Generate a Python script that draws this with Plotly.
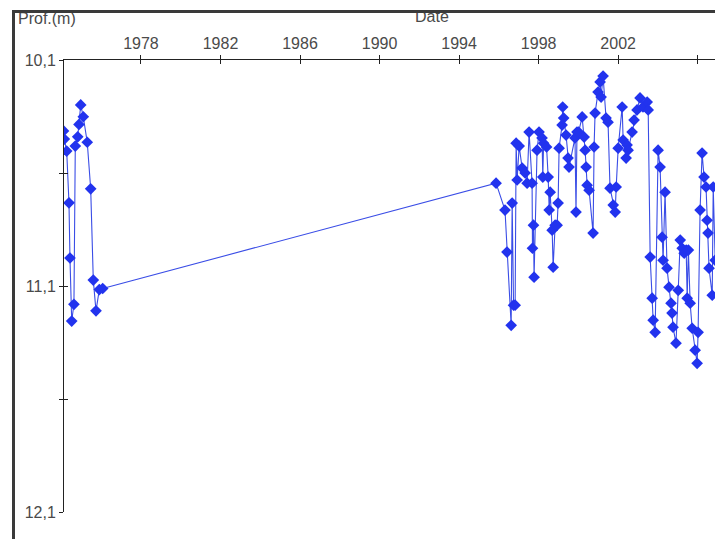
import pandas as pd
import plotly.graph_objects as go

# Decimal-year dates and depths (m)
years = [
    1974.105, 1974.145, 1974.266, 1974.38, 1974.43, 1974.517, 1974.63, 1974.698,
    1974.82, 1974.885, 1974.97, 1975.10, 1975.30, 1975.473, 1975.604, 1975.74,
    1975.906, 1976.077,
    1995.86, 1996.31, 1996.41, 1996.62, 1996.67, 1996.74, 1996.82, 1996.87,
    1996.92, 1997.02, 1997.17, 1997.32, 1997.42, 1997.52, 1997.67, 1997.69,
    1997.74, 1997.77, 1997.92, 1998.02, 1998.17, 1998.21, 1998.25, 1998.40,
    1998.48, 1998.53, 1998.58, 1998.68, 1998.73, 1998.83, 1998.93, 1998.98,
    1999.03, 1999.18, 1999.21, 1999.26, 1999.38, 1999.48, 1999.53, 1999.83,
    1999.88, 1999.93, 2000.01, 2000.19, 2000.29, 2000.34, 2000.39, 2000.44,
    2000.54, 2000.74, 2000.79, 2000.84, 2000.99, 2001.09, 2001.14, 2001.24,
    2001.39, 2001.49, 2001.59, 2001.75, 2001.85, 2001.90, 2002.00, 2002.20,
    2002.25, 2002.40, 2002.45, 2002.50, 2002.70, 2002.80, 2002.95, 2003.10,
    2003.25, 2003.46, 2003.51, 2003.61, 2003.71, 2003.76, 2003.86, 2004.01,
    2004.11, 2004.21, 2004.26, 2004.36, 2004.46, 2004.56, 2004.66, 2004.71,
    2004.76, 2004.91, 2005.02, 2005.12, 2005.22, 2005.32, 2005.42, 2005.47,
    2005.53, 2005.62, 2005.72, 2005.87, 2005.97, 2006.02, 2006.12, 2006.22,
    2006.32, 2006.42, 2006.47, 2006.52, 2006.57, 2006.73, 2006.78, 2006.88,
]
depths = [
    10.414, 10.450, 10.503, 10.732, 10.976, 11.255, 11.181, 10.481,
    10.440, 10.385, 10.299, 10.351, 10.464, 10.670, 11.074, 11.210,
    11.116, 11.111,
    10.645, 10.764, 10.950, 11.274, 10.733, 11.185, 11.185, 10.468,
    10.631, 10.481, 10.578, 10.600, 10.645, 10.419, 10.645, 10.933,
    10.831, 11.061, 10.499, 10.419, 10.445, 10.618, 10.468, 10.485,
    10.618, 10.764, 10.685, 10.853, 11.017, 10.831, 10.831, 10.733,
    10.490, 10.388, 10.308, 10.357, 10.432, 10.534, 10.574, 10.445,
    10.773, 10.419, 10.419, 10.352, 10.441, 10.499, 10.574, 10.654,
    10.676, 10.866, 10.485, 10.335, 10.242, 10.197, 10.264, 10.171,
    10.357, 10.375, 10.667, 10.742, 10.773, 10.662, 10.490, 10.308,
    10.454, 10.534, 10.476, 10.499, 10.419, 10.366, 10.321, 10.268,
    10.308, 10.286, 10.321, 10.972, 11.154, 11.251, 11.305, 10.499,
    10.574, 10.884, 10.986, 10.685, 11.021, 11.105, 11.176, 11.220,
    11.282, 11.353, 11.119, 10.897, 10.933, 10.955, 10.941, 11.154,
    10.941, 11.176, 11.287, 11.384, 11.442, 11.305, 10.764, 10.512,
    10.618, 10.662, 10.809, 10.866, 11.021, 11.141, 10.662, 10.986,
]

y_tickvals = [10.1, 10.6, 11.1, 11.6, 12.1]
y_ticktext = ["10,1", "", "11,1", "", "12,1"]


def dec_to_date(y):
    yr = int(y)
    return pd.Timestamp(yr, 1, 1) + pd.Timedelta(days=(y - yr) * 365.25)


dates = [dec_to_date(v) for v in years]

FONT = "Liberation Sans, Arial, sans-serif"
TXT = "#4a4a4a"
BLUE = "#2233ee"

fig = go.Figure()
fig.add_trace(go.Scatter(
    x=dates, y=depths, mode="lines+markers",
    line=dict(color="#3a4de6", width=1.1),
    marker=dict(symbol="diamond", size=9, color=BLUE),
    showlegend=False, hoverinfo="x+y",
))
# invisible trace for overlay tick axes
fig.add_trace(go.Scatter(x=[dates[0]], y=[depths[0]], xaxis="x2", yaxis="y2",
                         mode="markers", marker=dict(opacity=0), showlegend=False,
                         hoverinfo="skip"))

x_range = [dec_to_date(1974.13), dec_to_date(2006.87)]

fig.update_layout(
    width=715, height=539,
    margin=dict(l=64, r=0, t=60, b=27),
    paper_bgcolor="white", plot_bgcolor="white",
    font=dict(family=FONT, size=16, color=TXT),
    xaxis=dict(
        type="date", side="top", range=x_range,
        tick0="1978-01-01", dtick="M48", tickformat="%Y",
        showgrid=False, zeroline=False,
        showline=True, linecolor="#222222", linewidth=1,
        ticks="outside", ticklen=4, tickcolor="#222222",
        tickfont=dict(family=FONT, size=16, color=TXT),
    ),
    xaxis2=dict(
        type="date", side="top", overlaying="x", range=x_range,
        tick0="1978-01-01", dtick="M48",
        showgrid=False, zeroline=False, showline=False,
        ticks="inside", ticklen=4, tickcolor="#222222",
        showticklabels=False,
    ),
    yaxis=dict(
        range=[12.1, 10.1], tickvals=y_tickvals, ticktext=y_ticktext,
        showgrid=False, zeroline=False,
        showline=True, linecolor="#222222", linewidth=1,
        ticks="outside", ticklen=4, tickcolor="#222222",
        tickfont=dict(family=FONT, size=16, color=TXT),
    ),
    yaxis2=dict(
        range=[12.1, 10.1], tickvals=y_tickvals, overlaying="y", side="left",
        showgrid=False, zeroline=False, showline=False,
        ticks="inside", ticklen=4, tickcolor="#222222",
        showticklabels=False,
    ),
)

W, H = 651.0, 452.0


def px(xp):
    return (xp - 64) / W


def py(yp):
    return (512 - yp) / H


anns = [
    dict(text="Prof.(m)", x=px(16), y=py(18.5), xanchor="left", yanchor="middle",
         font=dict(family=FONT, size=16, color=TXT)),
    dict(text="Date", x=px(431.5), y=py(16.5), xanchor="center", yanchor="middle",
         font=dict(family=FONT, size=16, color=TXT)),
    # white cover above the frame
    dict(text=" ", x=px(-2), y=py(-2), xanchor="left", yanchor="top",
         width=720, height=10, bgcolor="white", borderwidth=0, borderpad=0),
    # outer frame
    dict(text=" ", x=px(11.5), y=py(10), xanchor="left", yanchor="top",
         width=800, height=600, bgcolor="rgba(0,0,0,0)",
         bordercolor="#3a3a3a", borderwidth=3, borderpad=0),
]
for a in anns:
    a.update(xref="paper", yref="paper", showarrow=False)
fig.update_layout(annotations=anns)

fig.write_html(
    "out.html",
    config={"displayModeBar": False},
    post_script="document.body.style.margin='0';document.body.style.overflow='hidden';",
)
